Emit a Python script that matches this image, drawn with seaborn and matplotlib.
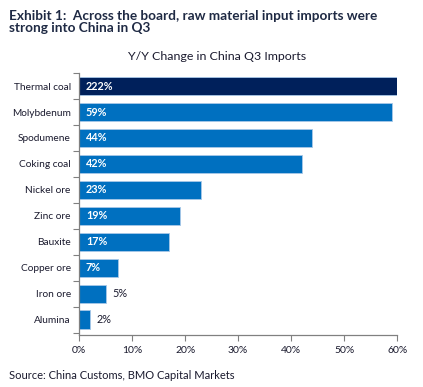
import matplotlib
matplotlib.use("Agg")
import matplotlib.pyplot as plt
import seaborn as sns
import pandas as pd
import numpy as np

# ── Datos ──
categorias = ['Thermal coal', 'Molybdenum', 'Spodumene', 'Coking coal', 'Nickel ore',
              'Zinc ore', 'Bauxite', 'Copper ore', 'Iron ore', 'Alumina']
valores = [222, 59, 44, 42, 23, 19, 17, 7.3, 5, 2]
etiquetas = ['222%', '59%', '44%', '42%', '23%', '19%', '17%', '7%', '5%', '2%']
grupo = ['top'] + ['resto'] * 9

df = pd.DataFrame({'cat': categorias, 'val': valores, 'grupo': grupo})

sns.set_style("white")
plt.rcParams['font.family'] = ['Lato', 'DejaVu Sans']

fig = plt.figure(figsize=(4.23, 3.87), dpi=100)
ax = fig.add_axes([0.187, 0.134, 0.752, 0.677])

sns.barplot(data=df, y='cat', x='val', hue='grupo', orient='h',
            palette={'top': '#00205B', 'resto': '#0070C0'}, saturation=1,
            width=0.7, edgecolor='#a8c8e8', linewidth=0.6, legend=False, ax=ax)

ax.set_xlim(0, 60)
ax.set_ylim(9.6, -0.5)
ax.set_xticks(np.arange(0, 61, 10))
ax.set_xticklabels([f"{t}%" for t in range(0, 61, 10)])
ax.set_xlabel(''); ax.set_ylabel('')

# ticks del eje y entre categorías
ax.set_yticks(np.arange(-0.5, 10, 1), minor=True)
ax.tick_params(axis='y', which='major', length=0, labelsize=7.3, pad=6, labelcolor='#1a1a2e')
ax.tick_params(axis='y', which='minor', length=4, width=0.8, color='#808080', left=True)
ax.tick_params(axis='x', length=4, width=0.8, color='#808080', bottom=True,
               labelsize=7.5, labelcolor='#1a1a2e')

for s in ['top', 'right']:
    ax.spines[s].set_visible(False)
for s in ['left', 'bottom']:
    ax.spines[s].set_color('#808080')
    ax.spines[s].set_linewidth(0.9)

for i, (v, lab) in enumerate(zip(valores, etiquetas)):
    if v >= 7:
        ax.text(1.3, i, lab, color='white', fontweight='bold', fontsize=7.8,
                va='center', ha='left')
    else:
        ax.text(v + 1.2, i, lab, color='#1a1a2e', fontsize=7.8, va='center', ha='left')

fig.text(0.022, 0.975, 'Exhibit 1:  Across the board, raw material input imports were\nstrong into China in Q3',
         fontsize=9.8, fontweight='bold', color='#1f2a44', va='top', ha='left',
         linespacing=1.05)
fig.text(0.512, 0.853, 'Y/Y Change in China Q3 Imports', fontsize=8.9, color='#1a1a2e',
         ha='center', va='center')
fig.text(0.022, 0.03, 'Source: China Customs, BMO Capital Markets', fontsize=8,
         color='#1a1a2e', ha='left', va='center')

fig.savefig('out.png', dpi=100)
